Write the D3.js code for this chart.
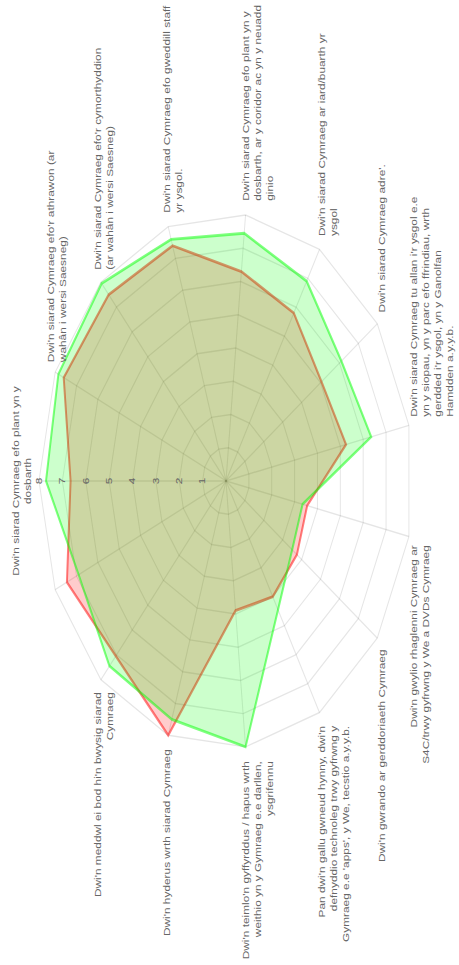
<!DOCTYPE html>
<html>
<head>
<meta charset="utf-8">
<script src="https://cdn.jsdelivr.net/npm/d3@7"></script>
<style>
body { margin: 0; background: #fff; }
svg { display: block; }
text { font-family: "Liberation Sans", Arial, Helvetica, sans-serif; fill: #666; }
</style>
</head>
<body>
<div id="radar-chart"></div>
<script>

// one entry per spoke, already split into lines like the original
var labels = [
	["Dwi'n siarad Cymraeg efo plant yn y", "dosbarth"],
	["Dwi'n siarad Cymraeg efo'r athrawon (ar", "wahân i wersi Saesneg)"],
	["Dwi'n siarad Cymraeg efo'r cymorthyddion", "(ar wahân i wersi Saesneg)"],
	["Dwi'n siarad Cymraeg efo gweddill staff", "yr ysgol."],
	["Dwi'n siarad Cymraeg efo plant yn y", "dosbarth, ar y coridor ac yn y neuadd", "ginio"],
	["Dwi'n siarad Cymraeg ar iard/buarth yr", "ysgol"],
	["Dwi'n siarad Cymraeg adre'."],
	["Dwi'n siarad Cymraeg tu allan i'r ysgol e.e", "yn y siopau, yn y parc efo ffrindiau, wrth", "gerdded i'r ysgol, yn y Ganolfan", "Hamdden a.y.y.b."],
	["Dwi'n gwylio rhaglenni Cymraeg ar", "S4C/trwy gyfrwng y We a DVDs Cymraeg"],
	["Dwi'n gwrando ar gerddoriaeth Cymraeg"],
	["Pan dwi'n gallu gwneud hynny, dwi'n", "defnyddio technoleg trwy gyfrwng y", "Gymraeg e.e 'apps', y We, tecstio a.y.y.b."],
	["Dwi'n teimlo'n gyffyrddus / hapus wrth", "weithio yn y Gymraeg e.e darllen,", "ysgrifennu"],
	["Dwi'n hyderus wrth siarad Cymraeg"],
	["Dwi'n meddwl ei bod hi'n bwysig siarad", "Cymraeg"],
	[""]
];

var redValues = [6.65, 7.6, 7.5, 7.4, 6.3, 5.8, 5.05, 5.25, 3.55, 3.75, 4.0, 3.9, 8.0, 7.05, 7.45];
var greenValues = [7.7, 7.85, 7.95, 7.6, 7.45, 6.9, 6.1, 6.35, 3.35, 3.5, 4.45, 8.0, 7.5, 7.45, 6.9];
var tickValues = [1, 2, 3, 4, 5, 6, 7, 8];

var w = 459;
var h = 965;
var stretch = 1.43; // the picture is squashed sideways, so the long side gets stretched

var svg = d3.select("#radar-chart")
	.append("svg")
	.attr("width", w)
	.attr("height", h);

// chart is drawn upright, then laid on its side
var chart = svg.append("g")
	.attr("transform", "translate(0," + h + ") scale(1," + stretch + ") rotate(-90)");

var cx = 338.5, cy = 226, R = 187;
var lineH = 12;

var rScale = d3.scaleLinear()
	.domain([0, 8])
	.range([0, R]);

var n = labels.length;
var angleOf = function(i) { return i * 2 * Math.PI / n; };
var idx = d3.range(n);

var g = chart.append("g")
	.attr("transform", "translate(" + cx + "," + cy + ")");

// grid rings (polygons)
var ring = d3.lineRadial()
	.angle(function(i) { return angleOf(i); })
	.curve(d3.curveLinearClosed);

g.append("g").selectAll("path")
	.data(tickValues)
	.enter()
	.append("path")
	.attr("d", function(t) { return ring.radius(rScale(t))(idx); })
	.attr("fill", "none")
	.attr("stroke", "rgba(0,0,0,0.1)")
	.attr("stroke-width", 1);

// spokes
g.append("g").selectAll("line")
	.data(idx)
	.enter()
	.append("line")
	.attr("x1", 0)
	.attr("y1", 0)
	.attr("x2", function(i) { return d3.pointRadial(angleOf(i), R)[0]; })
	.attr("y2", function(i) { return d3.pointRadial(angleOf(i), R)[1]; })
	.attr("stroke", "rgba(0,0,0,0.1)")
	.attr("stroke-width", 1);

// datasets, red first so green sits on top
var series = [
	{ values: redValues, fill: "rgba(255,0,0,0.2)", stroke: "rgba(255,0,0,0.5)" },
	{ values: greenValues, fill: "rgba(0,255,0,0.2)", stroke: "rgba(0,255,0,0.5)" }
];

var area = d3.lineRadial()
	.angle(function(d, i) { return angleOf(i); })
	.radius(function(d) { return rScale(d); })
	.curve(d3.curveLinearClosed);

g.append("g").selectAll("path")
	.data(series)
	.enter()
	.append("path")
	.attr("d", function(s) { return area(s.values); })
	.attr("fill", function(s) { return s.fill; })
	.attr("stroke", function(s) { return s.stroke; })
	.attr("stroke-width", 2)
	.attr("stroke-linejoin", "miter");

// tick labels on the first spoke
g.append("g").selectAll("text")
	.data(tickValues)
	.enter()
	.append("text")
	.attr("x", 0)
	.attr("y", function(t) { return -rScale(t); })
	.attr("text-anchor", "middle")
	.attr("dominant-baseline", "central")
	.style("font-size", "8.3px")
	.text(function(t) { return t; });

// point labels
var pl = g.append("g").selectAll("text")
	.data(idx)
	.enter()
	.append("text")
	.style("font-size", "8.3px")
	.attr("dominant-baseline", "central")
	.each(function(i) {
		var a = angleOf(i);
		var deg = a * 180 / Math.PI;
		var p = d3.pointRadial(a, R + 5);
		var anchor = "middle", x = p[0];
		if (Math.abs(deg) > 0.01 && Math.abs(deg - 180) > 0.01) {
			anchor = deg < 180 ? "start" : "end";
			x += deg < 180 ? 5 : -5;
		}
		var lines = labels[i];
		var y0 = p[1];
		if (Math.abs(deg) < 0.01) y0 = p[1] - (lines.length - 0.5) * lineH;
		var t = d3.select(this).attr("text-anchor", anchor);
		lines.forEach(function(line, k) {
			t.append("tspan")
				.attr("x", x)
				.attr("y", y0 + k * lineH)
				.text(line);
		});
	});

</script>
</body>
</html>
